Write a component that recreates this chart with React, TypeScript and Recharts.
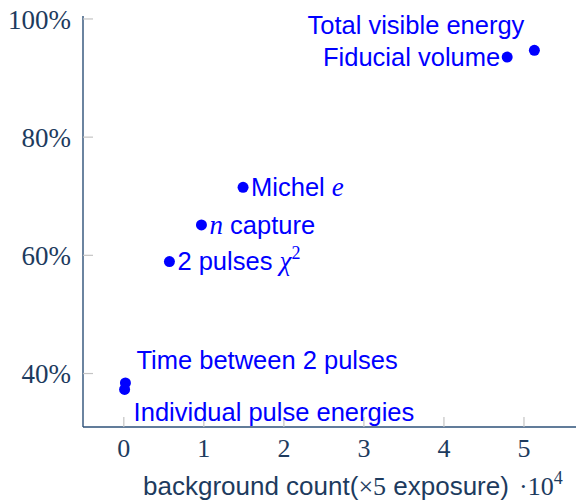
import React from 'react';
import { ScatterChart, Scatter, XAxis, YAxis, LabelList } from 'recharts';

// Cut names, background counts (in units of 10^4) and signal efficiency (%)
const cutNames = [
  'Total visible energy',
  'Fiducial volume',
  'Michel e',
  'n capture',
  '2 pulses χ2',
  'Time between 2 pulses',
  'Individual pulse energies',
];
const backgroundCounts = [5.13, 4.79, 1.49, 0.97, 0.57, 0.02, 0.01];
const efficiencies = [94.7, 93.55, 71.5, 65.15, 58.95, 38.4, 37.3];

// Where each annotation sits relative to its point
const labelPlacement = ['aboveLeft', 'left', 'right', 'right', 'right', 'aboveRight', 'belowRight'];

const xTicks = [0, 1, 2, 3, 4, 5];
const yTicks = [40, 60, 80, 100];

const data = cutNames.map((name, i) => ({
  name,
  x: backgroundCounts[i],
  y: efficiencies[i],
  place: labelPlacement[i],
}));

const AXIS = '#2d5078';
const TEXT = '#1d3b5e';
const TICK = '#c4c4c4';
const BLUE = '#0000ff';
const SANS = '"Liberation Sans", Arial, sans-serif';
const SERIF = '"Liberation Serif", "DejaVu Serif", serif';
const LABEL_SIZE = 25.5;
const AXIS_LABEL_SIZE = 26;

const renderName = (name: string) => {
  if (name === 'Michel e') {
    return (
      <>
        <tspan>Michel </tspan>
        <tspan fontFamily={SERIF} fontStyle="italic" fontSize={27}>e</tspan>
      </>
    );
  }
  if (name === 'n capture') {
    return (
      <>
        <tspan fontFamily={SERIF} fontStyle="italic" fontSize={27}>n</tspan>
        <tspan> capture</tspan>
      </>
    );
  }
  if (name === '2 pulses χ2') {
    return (
      <>
        <tspan>2 pulses </tspan>
        <tspan fontFamily={SERIF} fontStyle="italic" fontSize={27}>χ</tspan>
        <tspan fontFamily={SERIF} fontSize={18} dy={-11}>2</tspan>
      </>
    );
  }
  return name;
};

const PointLabel = (props: any) => {
  const { x, y, width, height, index } = props;
  const cx = x + width / 2;
  const cy = y + height / 2;
  const d = data[index];
  let tx = cx;
  let ty = cy;
  let anchor: 'start' | 'end' = 'start';
  switch (d.place) {
    case 'aboveLeft':
      tx = cx - 10;
      ty = cy - 25;
      anchor = 'end';
      break;
    case 'left':
      tx = cx - 7;
      anchor = 'end';
      break;
    case 'right':
      tx = cx + 8;
      break;
    case 'aboveRight':
      tx = cx + 11;
      ty = cy - 23;
      break;
    case 'belowRight':
      tx = cx + 9;
      ty = cy + 23;
      break;
  }
  return (
    <text
      x={tx}
      y={ty}
      dy="0.35em"
      textAnchor={anchor}
      fill={BLUE}
      fontFamily={SANS}
      fontSize={LABEL_SIZE}
    >
      {renderName(d.name)}
    </text>
  );
};

const Dot = (props: any) => <circle cx={props.cx} cy={props.cy} r={5.5} fill={BLUE} />;

const XLabel = (props: any) => {
  const { viewBox } = props;
  const y = viewBox.y + 68;
  return (
    <g>
      <text x={143} y={y} fill={TEXT} fontFamily={SANS} fontSize={AXIS_LABEL_SIZE}>
        <tspan>background count(</tspan>
        <tspan fontFamily={SERIF}>×5</tspan>
        <tspan> exposure)</tspan>
      </text>
      <text x={519} y={y} fill={TEXT} fontFamily={SERIF} fontSize={AXIS_LABEL_SIZE}>
        <tspan>·10</tspan>
        <tspan fontSize={18} dy={-11}>4</tspan>
      </text>
    </g>
  );
};

export default function App() {
  return (
    <div style={{ position: 'absolute', left: 0, top: 0, background: '#fff' }}>
      <ScatterChart
        width={577}
        height={501}
        margin={{ top: 16, right: 1, bottom: 0, left: 0 }}
      >
        <XAxis
          xAxisId="main"
          type="number"
          dataKey="x"
          domain={[-0.51, 5.65]}
          ticks={xTicks}
          allowDataOverflow
          height={74}
          tickSize={-10}
          tickMargin={22}
          tickLine={{ stroke: TICK, strokeWidth: 1.2 }}
          axisLine={{ stroke: AXIS, strokeWidth: 1.4 }}
          tick={{ fill: TEXT, fontFamily: SERIF, fontSize: 26 }}
          label={<XLabel />}
        />
        <XAxis
          xAxisId="top"
          orientation="top"
          type="number"
          dataKey="x"
          domain={[-0.51, 5.65]}
          ticks={xTicks}
          allowDataOverflow
          height={0}
          tickSize={-10}
          tickLine={{ stroke: TICK, strokeWidth: 1.2 }}
          axisLine={{ stroke: AXIS, strokeWidth: 1.4 }}
          tick={() => null}
        />
        <YAxis
          yAxisId="main"
          type="number"
          dataKey="y"
          domain={[30.95, 100.5]}
          ticks={yTicks}
          allowDataOverflow
          width={83}
          tickSize={-10}
          tickMargin={22}
          tickLine={{ stroke: TICK, strokeWidth: 1.2 }}
          axisLine={{ stroke: AXIS, strokeWidth: 1.4 }}
          tickFormatter={(v: number) => `${v}%`}
          tick={{ fill: TEXT, fontFamily: SERIF, fontSize: 27 }}
        />
        <YAxis
          yAxisId="right"
          orientation="right"
          type="number"
          dataKey="y"
          domain={[30.95, 100.5]}
          ticks={yTicks}
          allowDataOverflow
          width={0}
          tickSize={-10}
          tickLine={{ stroke: TICK, strokeWidth: 1.2 }}
          axisLine={{ stroke: AXIS, strokeWidth: 1.4 }}
          tick={() => null}
        />
        <Scatter
          xAxisId="main"
          yAxisId="main"
          data={data}
          fill={BLUE}
          shape={<Dot />}
          isAnimationActive={false}
          legendType="none"
        >
          <LabelList dataKey="name" content={<PointLabel />} />
        </Scatter>
      </ScatterChart>
    </div>
  );
}
